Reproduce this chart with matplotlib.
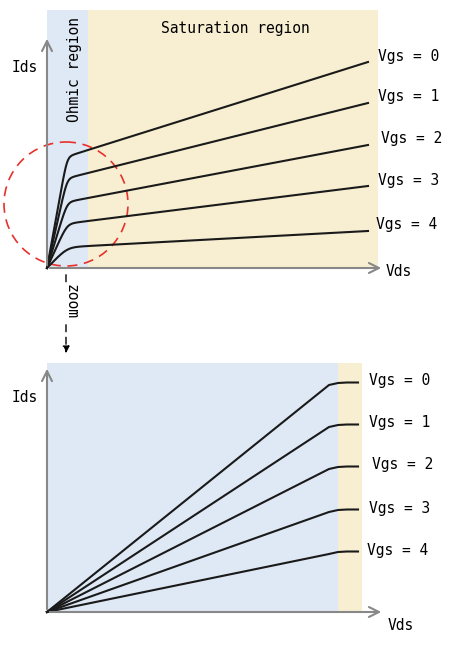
import numpy as np
import matplotlib.pyplot as plt
from matplotlib.patches import Rectangle, Circle

plt.rcParams['font.family'] = 'DejaVu Sans Mono'

labels = ['Vgs = 0', 'Vgs = 1', 'Vgs = 2', 'Vgs = 3', 'Vgs = 4']
# top chart: current (px above origin) at the edge of ohmic region and at the right end
knee_ids = [118, 95, 70, 47, 22]
end_ids = [206, 165, 123, 82, 37]
label_x_top = [378, 378, 381, 378, 376]
# bottom chart: current at end of linear part (px above origin)
zoom_ids = [229, 187, 145, 102, 60]
label_x_bot = [369, 369, 372, 369, 367]

fig = plt.figure(figsize=(4.56, 6.45), dpi=100)
ax = fig.add_axes([0, 0, 1, 1])
ax.set_xlim(0, 456)
ax.set_ylim(645, 0)
ax.axis('off')

blue = '#dfe9f5'
yellow = '#f8efd2'
gray = '#888888'

# ---- top chart ----
ox, oy = 47, 268
ax.add_patch(Rectangle((47, 10), 41, 258, color=blue, lw=0))
ax.add_patch(Rectangle((88, 10), 290, 258, color=yellow, lw=0))
ax.annotate('', xy=(47, 36), xytext=(47, oy),
            arrowprops=dict(arrowstyle='->', color=gray, lw=1.5, mutation_scale=18))
ax.annotate('', xy=(384, oy), xytext=(ox, oy),
            arrowprops=dict(arrowstyle='->', color=gray, lw=1.5, mutation_scale=18))
ax.text(12, 67, 'Ids', fontsize=10.5, va='center')
ax.text(386, 272, 'Vds', fontsize=10.5, va='center')
ax.text(75, 70, 'Ohmic region', fontsize=10.5, rotation=90, ha='center', va='center')
ax.text(235, 29, 'Saturation region', fontsize=10.5, ha='center', va='center')

x = np.linspace(0, 321, 600)
for kn, en, lab, lx in zip(knee_ids, end_ids, labels, label_x_top):
    s = (en - kn) / 280
    i0 = kn - s * 41
    lin = i0 / 19 * x
    sat = i0 + s * x
    k = 3.0 + i0 / 20
    y = -k * np.logaddexp(-lin / k, -sat / k)
    y = np.maximum(y, 0)
    ax.plot(ox + x, oy - y, color='#1a1a1a', lw=1.5)
    ax.text(lx, oy - en - 6, lab, fontsize=10.5, va='center')

ax.add_patch(Circle((66, 204), 62, fill=False, ec='#e8302c', ls=(0, (6, 4)), lw=1.2))

# zoom arrow
ax.annotate('', xy=(66, 356), xytext=(66, 272),
            arrowprops=dict(arrowstyle='-|>', color='black', lw=1, ls=(0, (5, 4)), mutation_scale=10))
ax.text(71, 302, 'zoom', fontsize=10.5, rotation=-90, ha='center', va='center',
        bbox=dict(fc='white', ec='none', pad=1))

# ---- bottom chart ----
bx, by = 47, 612
ax.add_patch(Rectangle((47, 363), 291, 249, color=blue, lw=0))
ax.add_patch(Rectangle((338, 363), 24, 249, color=yellow, lw=0))
ax.annotate('', xy=(47, 366), xytext=(47, by),
            arrowprops=dict(arrowstyle='->', color=gray, lw=1.5, mutation_scale=18))
ax.annotate('', xy=(384, by), xytext=(bx, by),
            arrowprops=dict(arrowstyle='->', color=gray, lw=1.5, mutation_scale=18))
ax.text(12, 398, 'Ids', fontsize=10.5, va='center')
ax.text(388, 626, 'Vds', fontsize=10.5, va='center')
for zi, lab, lx in zip(zoom_ids, labels, label_x_bot):
    xs = [0, 282, 291, 300, 311]
    ys = [0, zi - 2, zi, zi + 0.5, zi + 0.5]
    ax.plot([bx + v for v in xs], [by - v for v in ys], color='#1a1a1a', lw=1.5)
    ax.text(lx, by - zi - 2, lab, fontsize=10.5, va='center')

fig.savefig('out.png', dpi=100)
